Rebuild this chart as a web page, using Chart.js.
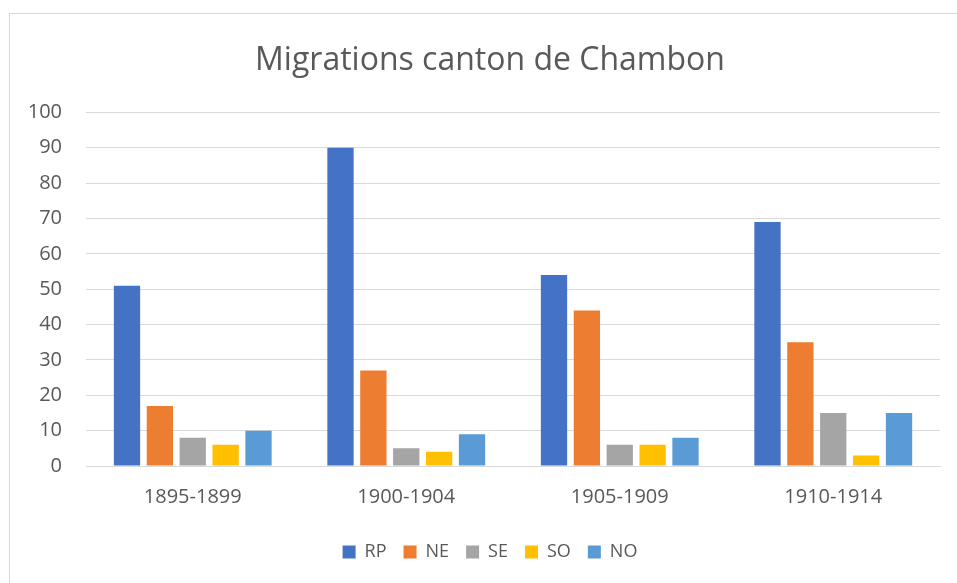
<!DOCTYPE html>
<html>
<head>
<meta charset="utf-8">
<script src="https://cdn.jsdelivr.net/npm/chart.js@4"></script>
<style>
  html, body { margin: 0; padding: 0; background: #fff; overflow: hidden; }
  #frame { position: absolute; left: 9px; top: 13px; width: 980px; height: 600px; border: 1px solid #d9d9d9; }
  #wrap { position: absolute; left: 0; top: 0; width: 980px; height: 583px; }
</style>
</head>
<body>
<div id="frame"></div>
<div id="wrap"><canvas id="chart"></canvas></div>
<script>
// data
const periods = ['1895-1899', '1900-1904', '1905-1909', '1910-1914'];
const rp = [51, 90, 54, 69];
const ne = [17, 27, 44, 35];
const se = [8, 5, 6, 15];
const so = [6, 4, 6, 3];
const no = [10, 9, 8, 15];

const textColor = '#595959';
const font = "'Open Sans', sans-serif";

new Chart(document.getElementById('chart'), {
    type: 'bar',
    data: {
        labels: periods,
        datasets: [
            { label: 'RP', data: rp, backgroundColor: '#4472C4' },
            { label: 'NE', data: ne, backgroundColor: '#ED7D31' },
            { label: 'SE', data: se, backgroundColor: '#A5A5A5' },
            { label: 'SO', data: so, backgroundColor: '#FFC000' },
            { label: 'NO', data: no, backgroundColor: '#5B9BD5' }
        ]
    },
    options: {
        responsive: true,
        maintainAspectRatio: false,
        animation: false,
        datasets: { bar: { categoryPercentage: 0.77, barPercentage: 0.8 } },
        layout: { padding: { left: 0, right: 0, top: 0, bottom: 12 } },
        plugins: {
            title: {
                display: true,
                text: 'Migrations canton de Chambon',
                color: textColor,
                font: { family: font, size: 32, weight: 'normal' },
                padding: { top: 42, bottom: 32 }
            },
            legend: {
                position: 'bottom',
                labels: {
                    color: textColor,
                    font: { family: font, size: 18 },
                    boxWidth: 13,
                    boxHeight: 13,
                    padding: 17
                }
            },
            tooltip: { enabled: false }
        },
        scales: {
            x: {
                grid: { display: false, drawTicks: false },
                border: { color: '#d9d9d9' },
                ticks: { color: textColor, font: { family: font, size: 20 }, padding: 19 },
                afterFit: axis => { axis.height = 60; }
            },
            y: {
                min: 0,
                max: 100,
                ticks: { stepSize: 10, color: textColor, font: { family: font, size: 20 }, padding: 24 },
                grid: { color: '#d9d9d9', drawTicks: false },
                border: { display: false },
                afterFit: axis => { axis.width = 86; }
            },
            // empty spacer on the right so the title and legend sit where the original does
            spacer: {
                position: 'right',
                ticks: { display: false },
                grid: { display: false, drawTicks: false },
                border: { display: false },
                afterFit: axis => { axis.width = 40; }
            }
        }
    }
});
</script>
</body>
</html>
